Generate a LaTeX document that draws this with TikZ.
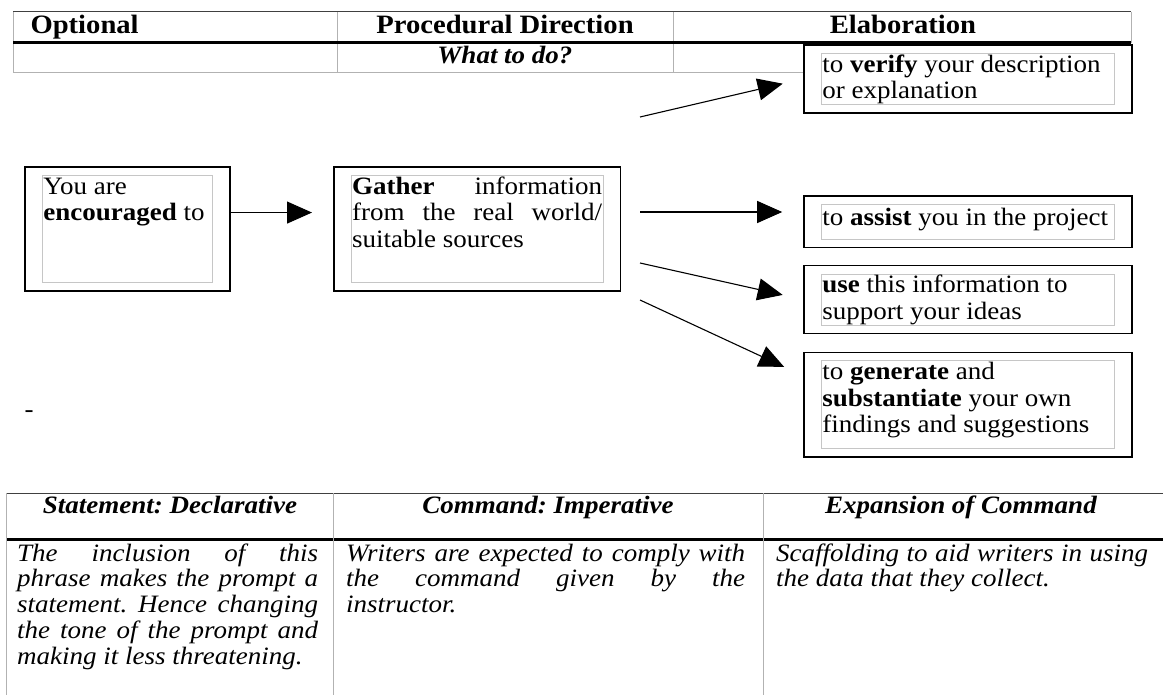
\documentclass[tikz,border=0pt]{standalone}
\usepackage{fontspec}
\setmainfont{Liberation Serif}[FakeStretch=1.08]
\usetikzlibrary{arrows.meta, positioning, fit}
\tikzstyle{arrow} = [line width=1.1pt, -{Triangle[length=25pt,width=22pt]}, shorten >=21pt]
\tikzstyle{inbox} = [draw=gray!45, line width=0.8pt, inner xsep=1pt, inner ysep=2pt, align=justify, anchor=north west, font=\boxfont]
\tikzstyle{outbox} = [draw, line width=1.6pt, inner xsep=17pt, inner ysep=8pt]
\tikzstyle{tabline} = [gray!60, line width=0.8pt]
\tikzstyle{topline} = [black!75, line width=1pt]
\newcommand{\boxfont}{\fontsize{25}{26.5}\selectfont}
\newcommand{\headfont}{\fontsize{26.5}{30}\selectfont\bfseries}
\newcommand{\tabfont}{\fontsize{25}{25.8}\selectfont\itshape}
\frenchspacing

\begin{document}
\begin{tikzpicture}[x=1pt, y=-1pt]
  \fill[white] (0,0) rectangle (1163,695);
  \useasboundingbox (0,0) rectangle (1163,695);

  % Top table
  \draw[topline] (13,12) -- (1131,12);
  \draw[tabline] (13,12) -- (13,72) -- (804,72);
  \draw[tabline] (337,12) -- (337,72);
  \draw[tabline] (673,12) -- (673,72);
  \draw[tabline] (1131,12) -- (1131,43);
  \draw[line width=3pt] (13,43) -- (1131,43);
  \node[anchor=base west, font=\headfont] (optional) at (27,34) {Optional};
  \node[anchor=base, font=\headfont] (procedural) at (505,34) {Procedural Direction};
  \node[anchor=base, font=\headfont] (elaboration) at (903,34) {Elaboration};
  \node[anchor=base, font=\boxfont\bfseries\itshape] (whattodo) at (505,64) {What to do?};

  % Boxes
  \node[inbox, text width=168pt, text height=17pt, text depth=86pt] (youin) at (42,175) {You are\\\textbf{encouraged} to};
  \node[inbox, text width=250pt, text height=17pt, text depth=86pt, right=138pt of youin] (gatherin) {\textbf{Gather}\hfill information\\from\hfill the\hfill real\hfill world/\\suitable sources};
  \node[inbox, text width=291pt, text height=17pt, text depth=30pt] (verifyin) at (821,53) {to \textbf{verify} your description\\or explanation};
  \node[inbox, text width=291pt, text height=19pt, text depth=12pt, below=99pt of verifyin] (assistin) {to \textbf{assist} you in the project};
  \node[inbox, text width=291pt, text height=17pt, text depth=30pt, below=34pt of assistin] (usein) {\textbf{use} this information to\\support your ideas};
  \node[inbox, text width=291pt, text height=17pt, text depth=67pt, below=35pt of usein] (generatein) {to \textbf{generate} and\\\textbf{substantiate} your own\\findings and suggestions};

  \node[outbox, fit=(youin)] (you) {};
  \node[outbox, fit=(gatherin)] (gather) {};
  \node[outbox, fit=(verifyin)] (verify) {};
  \node[outbox, fit=(assistin)] (assist) {};
  \node[outbox, fit=(usein)] (use) {};
  \node[outbox, fit=(generatein)] (generate) {};

  \node[anchor=base, font=\boxfont] (dash) at (29,417) {-};

  % Arrows
  \coordinate (s1) at (640,117);
  \coordinate (s2) at (640,212);
  \coordinate (s3) at (640,263);
  \coordinate (s4) at (640,300);
  \draw[arrow] (you.9) -- (you.9 -| gather.west);
  \draw[arrow] (s1) -- (verify.west);
  \draw[arrow] (s2) -- (s2 -| assist.west);
  \draw[arrow] (s3) -- (use.west);
  \draw[arrow] (s4) -- (generate.170);

  % Bottom table
  \draw[topline] (6,493) -- (1163,493);
  \draw[line width=3pt] (6,539) -- (1163,539);
  \draw[tabline] (6,493) -- (6,695);
  \draw[tabline] (333,493) -- (333,695);
  \draw[tabline] (763,493) -- (763,695);
  \node[anchor=base, font=\boxfont\bfseries\itshape] (declarative) at (170,513) {Statement: Declarative};
  \node[anchor=base, font=\boxfont\bfseries\itshape] (imperative) at (548,513) {Command: Imperative};
  \node[anchor=base, font=\boxfont\bfseries\itshape] (expansion) at (961,513) {Expansion of Command};
  \node[anchor=base west, text width=301pt, align=justify, inner sep=0pt, font=\tabfont] (declbody) at (17,561) {The inclusion of this\linebreak phrase makes the prompt a\linebreak statement. Hence changing\linebreak the tone of the prompt and\linebreak making it less threatening.};
  \node[anchor=base west, text width=399pt, align=justify, inner sep=0pt, font=\tabfont] (impbody) at (346,561) {Writers are expected to comply with\linebreak the command given by the\linebreak instructor.};
  \node[anchor=base west, text width=372pt, align=justify, inner sep=0pt, font=\tabfont] (expbody) at (776,561) {Scaffolding to aid writers in using\linebreak the data that they collect.};
\end{tikzpicture}
\end{document}
